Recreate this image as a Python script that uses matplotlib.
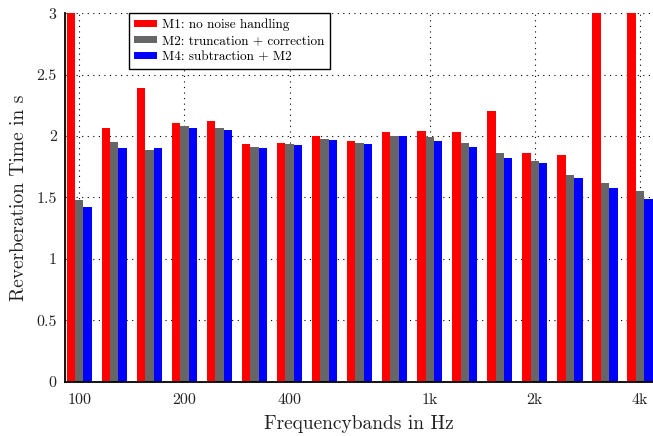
import numpy as np
import matplotlib
matplotlib.use("Agg")
import matplotlib.pyplot as plt
from matplotlib.patches import Patch

plt.rcParams['font.family'] = ['cmr10', 'DejaVu Serif']
plt.rcParams['axes.formatter.use_mathtext'] = True

bands = ["100", "125", "160", "200", "250", "315", "400", "500", "630", "800",
         "1k", "1.25k", "1.6k", "2k", "2.5k", "3.15k", "4k"]
m1 = [3.8, 2.07, 2.39, 2.11, 2.12, 1.935, 1.945, 2.00, 1.96, 2.035, 2.045, 2.03, 2.205, 1.86, 1.85, 3.5, 3.6]
m2 = [1.48, 1.95, 1.885, 2.08, 2.07, 1.915, 1.935, 1.98, 1.945, 2.00, 1.99, 1.94, 1.86, 1.80, 1.68, 1.62, 1.55]
m4 = [1.425, 1.90, 1.90, 2.065, 2.05, 1.905, 1.925, 1.97, 1.935, 2.00, 1.96, 1.915, 1.82, 1.78, 1.655, 1.58, 1.49]
series_labels = ["M1: no noise handling", "M2: truncation + correction", "M4: subtraction + M2"]
xtick_labels = ["100", "200", "400", "1k", "2k", "4k"]
ytick_vals = [0, 0.5, 1, 1.5, 2, 2.5, 3]
ytick_labels = ["0", "0.5", "1", "1.5", "2", "2.5", "3"]

colors = ["#ff0000", "#666666", "#0000ff"]
W, H = 653, 436
fig = plt.figure(figsize=(W / 100, H / 100), dpi=100)
ax = fig.add_axes([65 / W, 1 - 381.7 / H, (653 - 65) / W, (381.7 - 13.3) / H])

x = np.arange(len(bands))
bw = 0.24
for k, (vals, c) in enumerate(zip([m1, m2, m4], colors)):
    ax.bar(x + (k - 1) * bw, vals, width=bw, color=c, edgecolor='none', zorder=3)

ax.set_xlim(-0.405, 16.37)
ax.set_ylim(0, 3)
xt = [bands.index(l) for l in xtick_labels]
ax.set_xticks(xt)
ax.set_xticklabels(xtick_labels)
ax.set_yticks(ytick_vals)
ax.set_yticklabels(ytick_labels)
ax.tick_params(axis='x', length=0, pad=8, labelsize=11.5, labelcolor='#222222')
ax.tick_params(axis='y', length=0, pad=6, labelsize=11.5, labelcolor='#222222')

ax.grid(True, color='black', linestyle=(0, (1, 4)), linewidth=0.8, zorder=1)
ax.set_axisbelow(True)
for s in ['top', 'right']:
    ax.spines[s].set_visible(False)
for s in ['left', 'bottom']:
    ax.spines[s].set_linewidth(1.3)
    ax.spines[s].set_zorder(4)

ax.set_xlabel("Frequencybands in Hz", fontsize=14, color='#222222', labelpad=6)
ax.set_ylabel("Reverberation Time in s", fontsize=14, color='#222222', labelpad=6)

handles = [Patch(facecolor=c, edgecolor='none') for c in colors]
leg = ax.legend(handles, series_labels, loc='upper left',
                bbox_to_anchor=((129 - 65) / (653 - 65), 1.0),
                fontsize=9.5, frameon=True, fancybox=False, framealpha=1,
                edgecolor='black', handlelength=1.7, handleheight=0.4,
                labelspacing=0.3, borderpad=0.4, handletextpad=0.4,
                borderaxespad=0)
leg.get_frame().set_linewidth(1.0)
leg.set_zorder(5)

fig.savefig("out.png", dpi=100)
